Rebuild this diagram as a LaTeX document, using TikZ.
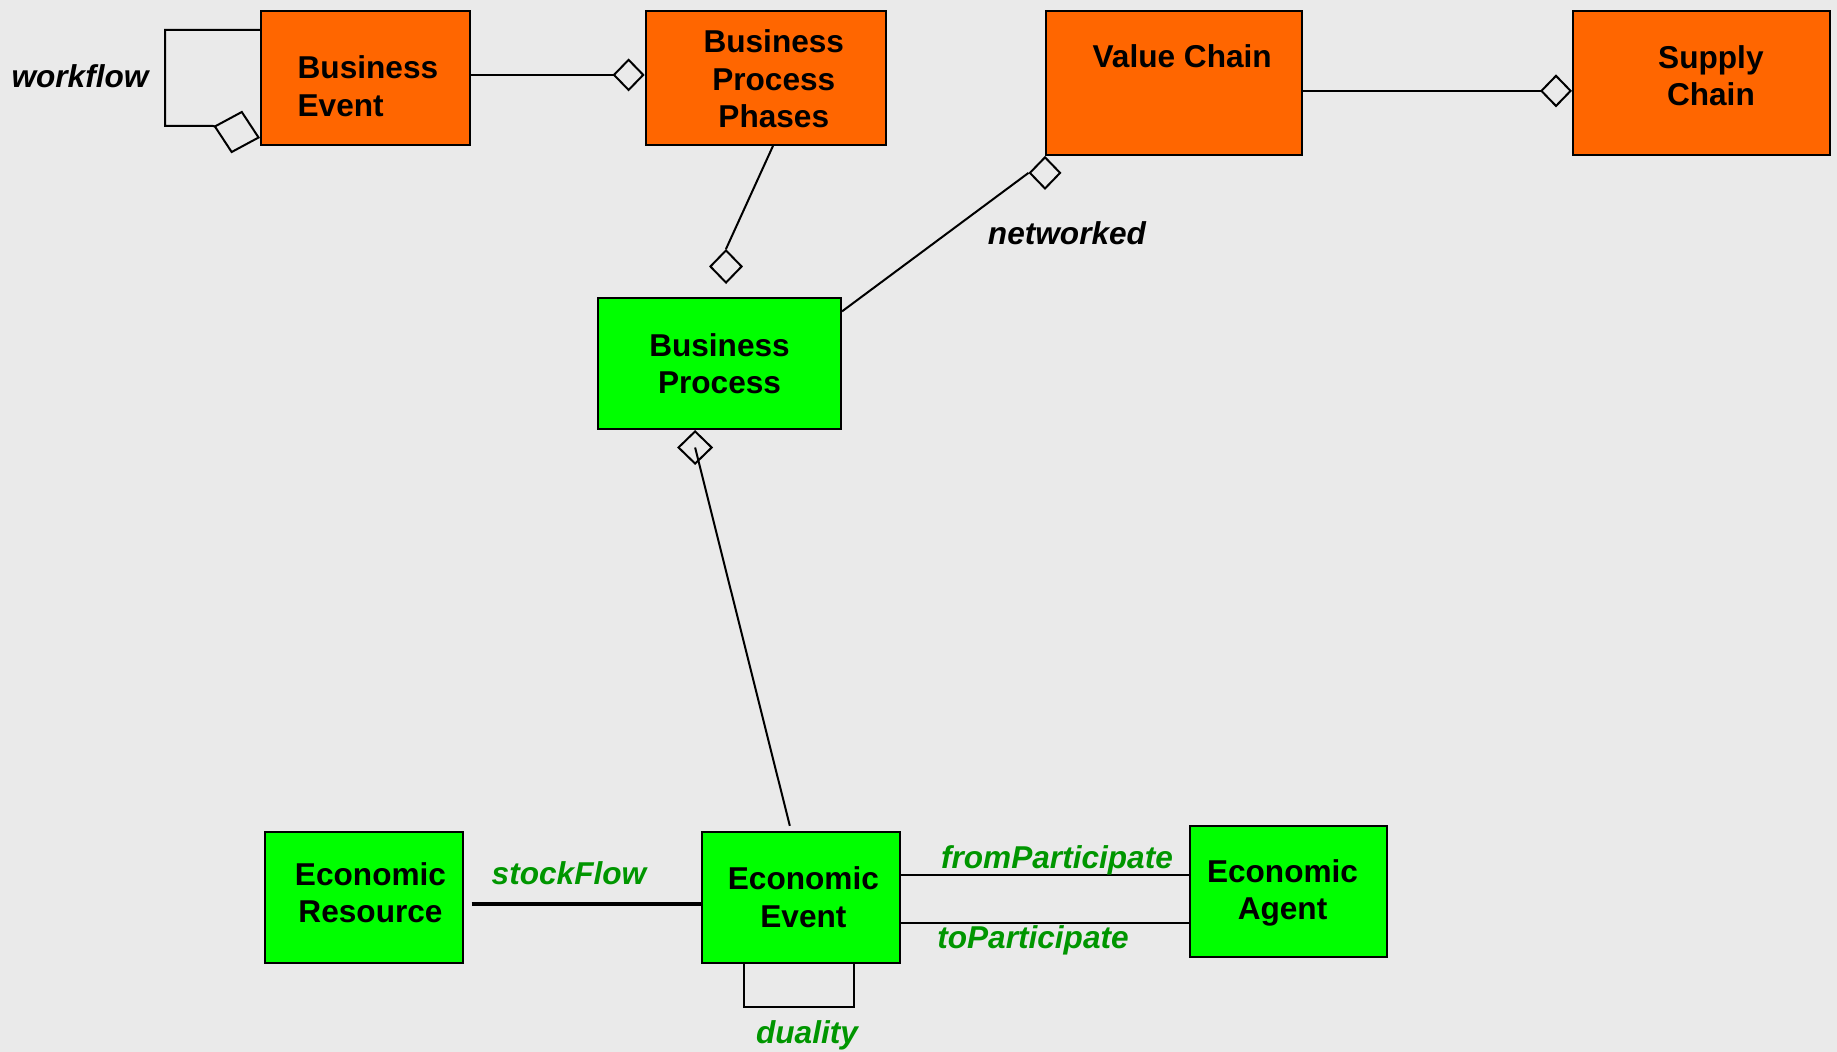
\documentclass[tikz,border=0pt]{standalone}
\usepackage{fontspec}
\setmainfont{Liberation Sans}
\usetikzlibrary{arrows.meta,shapes.geometric}
\definecolor{bggray}{RGB}{234,234,234}
\definecolor{reaorange}{RGB}{255,102,0}
\definecolor{reagreen}{RGB}{0,255,0}
\definecolor{lblgreen}{RGB}{0,150,0}
\newcommand{\boxfont}{\fontsize{15.8}{18.75}\selectfont\bfseries}
\newcommand{\lblfont}{\fontsize{15.8}{18.75}\selectfont\bfseries\itshape}
\tikzset{
  box/.style={draw, line width=1pt, inner sep=0pt},
  boxtxt/.style={font=\boxfont, align=center, inner sep=0pt},
  aggdia/.style={diamond, draw, line width=1pt, fill=bggray, inner sep=0pt},
  link/.style={line width=1pt},
  agg/.style={link, -{Diamond[open,length=16pt,width=16.5pt]}},
  rolelbl/.style={font=\lblfont, inner sep=1pt},
}

\begin{document}
\begin{tikzpicture}[x=0.5pt,y=-0.5pt]
  \path[use as bounding box, fill=bggray] (0,0) rectangle (1837,1052);

  % value chain level
  \node[box, fill=reaorange, minimum width=104.5pt, minimum height=67pt] (bevent) at (365.5,77.9) {};
  \node[box, fill=reaorange, minimum width=120pt, minimum height=67pt] (bpphase) at (765.6,77.9) {};
  \node[box, fill=reaorange, minimum width=128pt, minimum height=72pt] (vchain) at (1174,82.9) {};
  \node[box, fill=reaorange, minimum width=128.5pt, minimum height=72pt] (schain) at (1701.5,82.9) {};
  \node[box, fill=reagreen, minimum width=121.5pt, minimum height=65.3pt] (bprocess) at (719.5,363.7) {};
  \node[boxtxt, align=left] (betxt) at ([xshift=1.2pt,yshift=-4.1pt]bevent.center) {Business\\Event};
  \node[boxtxt] (bptxt) at ([xshift=4.1pt,yshift=-0.6pt]bpphase.center) {Business\\Process\\Phases};
  \node[boxtxt, anchor=base] (vctxt) at ([xshift=4.1pt,yshift=-29pt]vchain.north) {Value Chain};
  \node[boxtxt] (sctxt) at ([xshift=4.7pt,yshift=3.5pt]schain.center) {Supply\\Chain};
  \node[boxtxt] (bprtxt) at (bprocess.center) {Business\\Process};

  % REA level
  \node[box, fill=reagreen, minimum width=99pt, minimum height=65.3pt] (eres) at (363.5,897.3) {};
  \node[box, fill=reagreen, minimum width=98.75pt, minimum height=65.3pt] (eevent) at (801,897.3) {};
  \node[box, fill=reagreen, minimum width=98.65pt, minimum height=65.5pt] (eagent) at (1288.3,891.5) {};
  \node[boxtxt] (ertxt) at ([xshift=3.5pt,yshift=2.3pt]eres.center) {Economic\\Resource};
  \node[boxtxt] (eetxt) at ([xshift=1.2pt]eevent.center) {Economic\\Event};
  \node[boxtxt] (eatxt) at ([xshift=-2.9pt,yshift=-0.6pt]eagent.center) {Economic\\Agent};

  % aggregation diamonds
  \node[aggdia, minimum width=15.5pt, minimum height=16pt, anchor=north] (netdia) at (vchain.south west) {};
  \node[aggdia, minimum width=16pt, minimum height=16.5pt] (phdia) at (726,266.5) {};
  \node[aggdia, minimum width=17pt, minimum height=16.5pt, anchor=north] (evdia) at ([xshift=-12.2pt]bprocess.south) {};
  \coordinate (wfa) at (213,126);

  % workflow
  \draw[link, -{Diamond[open,length=24pt,width=22pt]}] ([yshift=-10pt]bevent.north west) -- ++(-95,0) |- (wfa) -- ([yshift=4pt]bevent.south west);
  \node[rolelbl] (wflbl) at (80,76) {workflow};

  \draw[agg] ([yshift=1.5pt]bevent.east) -- ([yshift=1.5pt]bpphase.west);
  \draw[link] ([xshift=3.7pt]bpphase.south) -- (phdia.north);
  \draw[agg] ([yshift=-4pt]vchain.east) -- ([yshift=-4pt]schain.west);
  \draw[link] ([yshift=-7pt]bprocess.north east) -- (netdia.west);
  \node[rolelbl] (netlbl) at (1067,233) {networked};

  \draw[link] ([xshift=-5.6pt,yshift=2.6pt]eevent.north) -- (evdia.center);

  % stockFlow / participation / duality
  \draw[line width=1.7pt] ([xshift=4pt,yshift=-3.4pt]eres.east) -- ([yshift=-3.4pt]eevent.west);
  \node[rolelbl, text=lblgreen] (sflbl) at (569,873) {stockFlow};
  \draw[link] ([yshift=11.2pt]eevent.east) -- ([yshift=11.2pt]eevent.east -| eagent.west);
  \node[rolelbl, text=lblgreen] (fplbl) at (1057,860) {fromParticipate};
  \draw[link] ([yshift=-12.9pt]eevent.east) -- ([yshift=-12.9pt]eevent.east -| eagent.west);
  \node[rolelbl, text=lblgreen] (tplbl) at (1033,940.5) {toParticipate};
  \draw[link] ([xshift=-28.4pt]eevent.south) -- ++(0,43) -| ([xshift=26.4pt,yshift=1pt]eevent.south);
  \node[rolelbl, text=lblgreen] (dulbl) at (807,1035.5) {duality};
\end{tikzpicture}
\end{document}
